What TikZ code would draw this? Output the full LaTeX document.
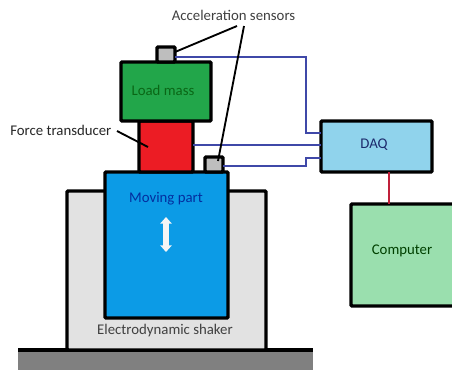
\documentclass[tikz,border=0pt]{standalone}
\usepackage{fontspec}
\setmainfont{Carlito}
\usetikzlibrary{arrows.meta}
\definecolor{cgreen}{HTML}{22A64A}
\definecolor{cred}{HTML}{EC1C24}
\definecolor{cblue}{HTML}{0C9BE6}
\definecolor{cgrey}{HTML}{E2E2E2}
\definecolor{csens}{HTML}{BEBEBE}
\definecolor{cbase}{HTML}{808080}
\definecolor{cdaq}{HTML}{90D3EC}
\definecolor{ccomp}{HTML}{9ADFAE}
\definecolor{cwire}{HTML}{3F48A8}
\definecolor{cline}{HTML}{C0203A}
\definecolor{ctext}{HTML}{404040}
\tikzset{
  x=0.75pt,y=-0.75pt,
  block/.style={draw=black,line width=2.6pt,rounded corners=0.8pt,inner sep=0pt,outer sep=0pt,anchor=north west},
  wire/.style={draw=cwire,line width=1.4pt},
  lead/.style={draw=black,line width=1.4pt},
  lab/.style={font=\fontsize{11.1pt}{13pt}\selectfont,inner sep=0pt},
}
\newcommand{\blk}[6]{\node[block,fill=#6,minimum width=#3*0.75pt,minimum height=#4*0.75pt] (#5) at (#1,#2) {};}
\begin{document}
\begin{tikzpicture}
\useasboundingbox (0,0) rectangle (452,369);
\fill[white] (0,0) rectangle (452,369);
\clip (0,0) rectangle (452,369);
\node[fill=cbase,inner sep=0pt,outer sep=0pt,anchor=north west,minimum width=295*0.75pt,minimum height=20*0.75pt] (base) at (18,350) {};
\draw[black,line width=2.4pt] (base.north west) -- (base.north east);
\blk{67}{191}{199}{159}{shaker}{cgrey}
\blk{105}{172}{123}{146}{moving}{cblue}
\blk{139}{121}{54}{51}{force}{cred}
\blk{121}{62}{90}{59}{load}{cgreen}
\blk{157}{47}{18}{15}{senstop}{csens}
\blk{205}{157}{18}{15}{sensbot}{csens}
\blk{321}{121}{111}{51}{daq}{cdaq}
\blk{351}{204}{106}{102}{comp}{ccomp}
\coordinate (w1) at (306,57);
\coordinate (w2) at (306,133);
\coordinate (w3) at (306,166);
\coordinate (w4) at (306,158);
\draw[wire] (senstop.east |- 0,57) -- (w1) -- (w2) -- (daq.west |- w2);
\draw[wire] (force.east |- 0,145) -- (daq.west |- 0,145);
\draw[wire] (sensbot.east |- w3) -- (w3) -- (w4) -- (daq.west |- w4);
\draw[draw=cline,line width=1.5pt] (daq.south -| 389,0) -- (comp.north -| 389,0);
\node[lab,text=ctext] (accel) at (233.5,15) {Acceleration sensors};
\node[lab,text=ctext!60!black,anchor=west] (ft) at (10,130) {Force transducer};
\coordinate (a1) at (237,26);
\coordinate (a2) at (244,26);
\coordinate (a3) at (117,131);
\coordinate (t1) at (175,52);
\coordinate (t2) at (218,161);
\coordinate (t3) at (148,147);
\draw[lead] (a1) -- (t1);
\draw[lead] (a2) -- (t2);
\draw[lead] (a3) -- (t3);
\node[lab,text=green!30!black,opacity=.7] (loadlab) at (163,90) {Load mass};
\node[lab,text=blue!50!black,opacity=.7] (movlab) at (166,199) {Moving part};
\node[lab,text=ctext] (shlab) at (165,331) {Electrodynamic shaker};
\node[lab,text=blue!30!black,opacity=.8] (daqlab) at (374,145) {DAQ};
\node[lab,text=green!25!black] (complab) at (402,251) {Computer};
\coordinate (d1) at (166,217);
\coordinate (d2) at (166,252);
\draw[white!92!gray,line width=4pt,{Triangle[width=8.5pt,length=5pt]}-{Triangle[width=8.5pt,length=5pt]}] (d1) -- (d2);
\end{tikzpicture}
\end{document}
